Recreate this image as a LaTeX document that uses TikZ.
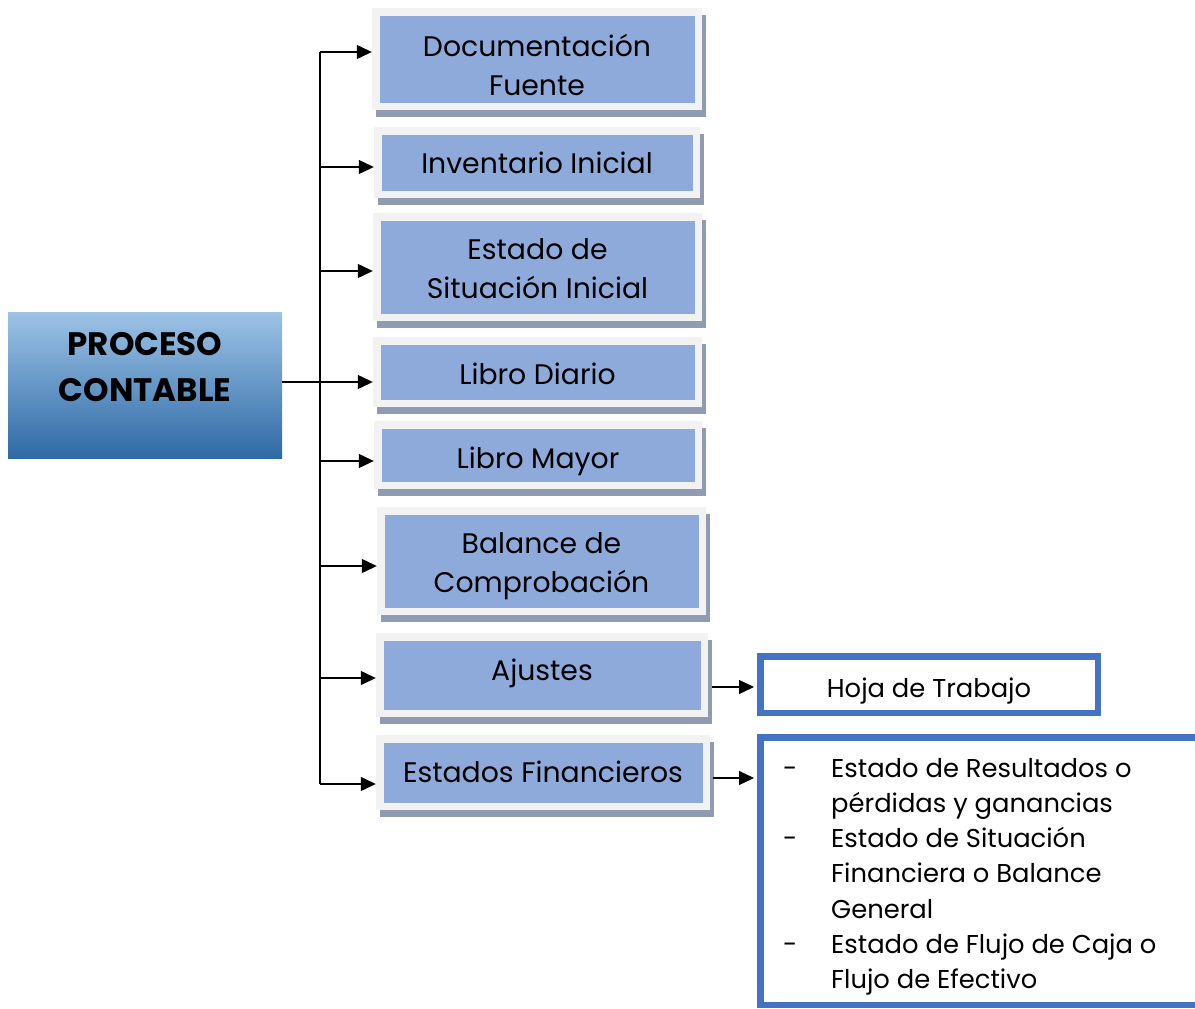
\documentclass[tikz,border=0pt]{standalone}
\usepackage{fontspec}
\setmainfont{Poppins}
\usetikzlibrary{arrows.meta,shadows}
\definecolor{boxblue}{HTML}{8EAADB}
\definecolor{framegray}{HTML}{F2F2F2}
\definecolor{shadowgray}{HTML}{8E9BB0}
\definecolor{gradtop}{HTML}{9DC3E6}
\definecolor{gradbot}{HTML}{2E6AA6}
\definecolor{bordblue}{HTML}{4472C4}
\begin{document}
\begin{tikzpicture}[x=1pt,y=-1pt,
  stepbox/.style={fill=framegray, inner sep=0pt, align=center,
    general shadow={fill=shadowgray, shadow xshift=4pt, shadow yshift=-7pt},
    path picture={\fill[boxblue] ([shift={(7.5pt,-7.5pt)}]path picture bounding box.north west) rectangle ([shift={(-7pt,7.5pt)}]path picture bounding box.south east);},
    font=\fontsize{28.3}{39}\selectfont},
  outbox/.style={draw=bordblue, line width=6.5pt, fill=white, inner sep=0pt},
  conn/.style={line width=1.2pt},
  arr/.style={line width=1.2pt, -{Triangle[length=15pt,width=14pt]}},
  listtext/.style={font=\fontsize{25.8}{35.3}\selectfont, inner sep=0pt}
]
\useasboundingbox (0,0) rectangle (1195,1009);

% main box
\node[top color=gradtop, bottom color=gradbot, minimum width=274pt, minimum height=146pt, inner sep=0pt] (pc) at (145,385) {};
\node[font=\fontsize{32.5}{46}\selectfont\bfseries, align=center, inner sep=0pt, anchor=base] (pctext) at (145,401) {PROCESO\\CONTABLE};

% step boxes
\node[stepbox, minimum width=330pt, minimum height=102pt, text height=76pt, text depth=4pt] (b1) at (537,59) {Documentación\\Fuente};
\node[stepbox, minimum width=326pt, minimum height=71pt, text height=25.5pt, text depth=4.5pt] (b2) at (537,162.5) {Inventario Inicial};
\node[stepbox, minimum width=329pt, minimum height=108pt, text height=71pt, text depth=9pt] (b3) at (537.5,267) {Estado de\\Situación Inicial};
\node[stepbox, minimum width=329pt, minimum height=70pt, text height=27pt, text depth=3pt] (b4) at (537.5,372) {Libro Diario};
\node[stepbox, minimum width=328pt, minimum height=68pt, text height=28pt, text depth=2pt] (b5) at (538,455) {Libro Mayor};
\node[stepbox, minimum width=329pt, minimum height=108pt, text height=71pt, text depth=9pt] (b6) at (541.5,561) {Balance de\\Comprobación};
\node[stepbox, minimum width=332pt, minimum height=84pt, text height=20pt, text depth=10pt] (b7) at (542,675) {Ajustes};
\node[stepbox, minimum width=334pt, minimum height=75pt, text height=24.5pt, text depth=5.5pt] (b8) at (543,772.5) {Estados Financieros};

% output boxes
\node[outbox, minimum width=337.5pt, minimum height=56.5pt, font=\fontsize{25.8}{35.3}\selectfont, text height=28pt, text depth=2pt] (hoja) at (929,684.5) {Hoja de Trabajo};
\node[outbox, minimum width=450pt, minimum height=267.5pt] (ef) at (985.25,871) {};
\node[listtext, anchor=base west] (eflist) at (783,777) {%
\begin{tabular}[t]{@{}p{48pt}@{}l@{}}
- & Estado de Resultados o\\
  & pérdidas y ganancias\\
- & Estado de Situación\\
  & Financiera o Balance\\
  & General\\
- & Estado de Flujo de Caja o\\
  & Flujo de Efectivo
\end{tabular}};

% trunk
\coordinate (t1) at (320,52);
\coordinate (t2) at (320,167);
\coordinate (t3) at (320,271);
\coordinate (t4) at (320,382);
\coordinate (t5) at (320,461);
\coordinate (t6) at (320,566);
\coordinate (t7) at (320,678);
\coordinate (t8) at (320,784);
\draw[conn] (t1) -- (t8);
\draw[conn] (pc.east |- t4) -- (t4);
\foreach \i in {1,...,8}{
  \draw[arr] (t\i) -- (t\i -| b\i.west);
}
\coordinate (a7) at (712,687);
\coordinate (a8) at (713,778);
\draw[arr, shorten >=3pt] (a7) -- (a7 -| hoja.west);
\draw[arr, shorten >=3pt] (a8) -- (a8 -| ef.west);
\end{tikzpicture}
\end{document}
